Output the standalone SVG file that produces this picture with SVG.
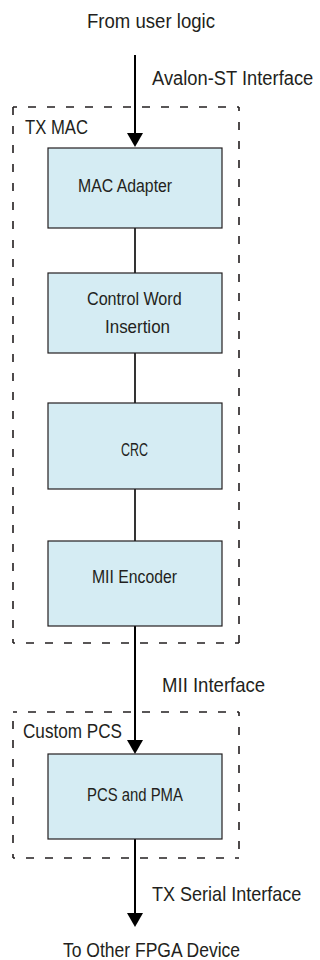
<svg xmlns="http://www.w3.org/2000/svg" width="320" height="960" viewBox="0 0 320 960">
  <style>
    .bg { fill: #ffffff; }
    .lbl { font-family: "Liberation Sans", Arial, sans-serif; font-size: 21px; fill: #231f20; }
    .blk-lbl { font-family: "Liberation Sans", Arial, sans-serif; font-size: 18.5px; fill: #231f20; }
    .blk { fill: #d5ecf3; stroke: #231f20; stroke-width: 1.2; }
    .grp { fill: none; stroke: #231f20; stroke-width: 1.6; stroke-dasharray: 8 11; stroke-dashoffset: 4; }
    .wire { fill: none; stroke: #000000; stroke-width: 1.6; }
    .bus { fill: none; stroke: #000000; stroke-width: 2; }
    .head { fill: #000000; }
  </style>

  <rect class="bg" x="0" y="0" width="320" height="960"/>

  <!-- dashed grouping boundaries (labels are horizontally condensed) -->
  <g id="tx-mac">
    <path class="grp" d="M13,107 H239 M239,107 V643 M239,643 H13 M13,643 V107"/>
    <text class="lbl" transform="translate(25,134) scale(0.794,1)">TX MAC</text>
  </g>
  <g id="custom-pcs">
    <path class="grp" d="M13,712 H239 M239,712 V858 M239,858 H13 M13,858 V712"/>
    <text class="lbl" transform="translate(23,738) scale(0.816,1)">Custom PCS</text>
  </g>

  <!-- signal flow connectors -->
  <g id="connectors">
    <path class="bus" d="M135,55 V133"/>
    <path class="head" d="M127,133 L143,133 L135,147 Z"/>
    <path class="wire" d="M135,228 V273"/>
    <path class="wire" d="M135,353 V403"/>
    <path class="wire" d="M135,489 V541"/>
    <path class="bus" d="M135,626 V740"/>
    <path class="head" d="M127,740 L143,740 L135,754 Z"/>
    <path class="bus" d="M135,839 V913"/>
    <path class="head" d="M127,913 L143,913 L135,927 Z"/>
  </g>

  <!-- interface labels -->
  <g id="src">
    <text class="lbl" transform="translate(87,28) scale(0.885,1)">From user logic</text>
  </g>
  <g id="avalon-st">
    <text class="lbl" transform="translate(152,85) scale(0.873,1)">Avalon-ST Interface</text>
  </g>
  <g id="mii-if">
    <text class="lbl" transform="translate(162,692) scale(0.885,1)">MII Interface</text>
  </g>
  <g id="tx-serial">
    <text class="lbl" transform="translate(152,901) scale(0.859,1)">TX Serial Interface</text>
  </g>
  <g id="dst">
    <text class="lbl" transform="translate(63,957) scale(0.834,1)">To Other FPGA Device</text>
  </g>

  <!-- processing blocks -->
  <g id="mac-adapter">
    <rect class="blk" x="48" y="148" width="174" height="80"/>
    <text class="blk-lbl" transform="translate(78,192) scale(0.856,1)">MAC Adapter</text>
  </g>
  <g id="control-word-insertion">
    <rect class="blk" x="48" y="273" width="174" height="80"/>
    <text class="blk-lbl" transform="translate(87,305) scale(0.872,1)">Control Word</text>
    <text class="blk-lbl" transform="translate(105,333) scale(0.916,1)">Insertion</text>
  </g>
  <g id="crc">
    <rect class="blk" x="48" y="403" width="174" height="86"/>
    <text class="blk-lbl" transform="translate(121,456) scale(0.674,1)">CRC</text>
  </g>
  <g id="mii-encoder">
    <rect class="blk" x="48" y="541" width="174" height="85"/>
    <text class="blk-lbl" transform="translate(92,583) scale(0.852,1)">MII Encoder</text>
  </g>
  <g id="pcs-pma">
    <rect class="blk" x="48" y="754" width="174" height="85"/>
    <text class="blk-lbl" transform="translate(87,801) scale(0.805,1)">PCS and PMA</text>
  </g>
</svg>
